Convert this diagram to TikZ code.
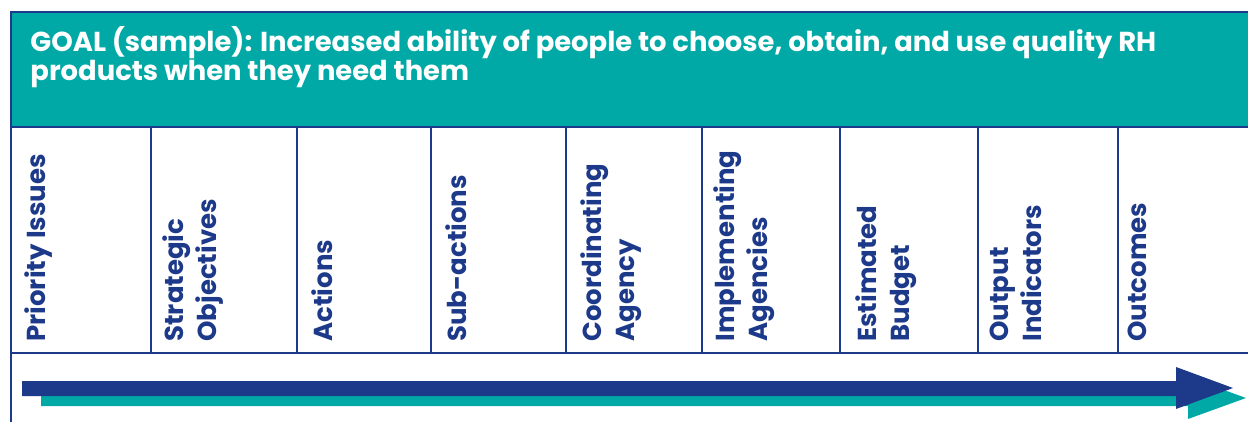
\documentclass[tikz,border=0pt]{standalone}
\usepackage{fontspec}
\setmainfont{Poppins}
\definecolor{rhnavy}{RGB}{29,57,137}
\definecolor{rhteal}{RGB}{0,169,165}
\tikzset{
	rule/.style={draw=rhnavy, line width=1pt},
	goaltext/.style={anchor=north west, align=left, inner sep=0pt, text=white, font=\bfseries\fontsize{13.7}{14.5}\selectfont},
	colhead/.style={rotate=90, anchor=north west, align=left, inner sep=0pt, text=rhnavy, font=\bfseries\fontsize{13}{16.5}\selectfont},
}

\begin{document}
\begin{tikzpicture}[x=0.5pt, y=-0.5pt]
			\clip (0, 0) rectangle (1248, 422);
			% goal band across the top
			\fill[rhteal] (11, 12) rectangle (1260, 127);
			\node (goal)[goaltext] at (30, 26) {GOAL (sample): Increased ability of people to choose, obtain, and use quality RH\\products when they need them};
			% frame and column rules
			\draw[rule] (1260, 12) -- (11, 12) -- (11, 430);
			\draw[rule] (11, 127) -- (1260, 127);
			\draw[rule] (11, 353) -- (1260, 353);
			\draw[rule] (151, 127) -- (151, 353);
			\draw[rule] (297, 127) -- (297, 353);
			\draw[rule] (431, 127) -- (431, 353);
			\draw[rule] (566, 127) -- (566, 353);
			\draw[rule] (702, 127) -- (702, 353);
			\draw[rule] (840, 127) -- (840, 353);
			\draw[rule] (978, 127) -- (978, 353);
			\draw[rule] (1118, 127) -- (1118, 353);
			% column headings, read bottom to top
			\node (issues)[colhead] at (24, 342) {Priority Issues};
			\node (objectives)[colhead] at (162, 342) {Strategic\\Objectives};
			\node (actions)[colhead] at (311, 342) {Actions};
			\node (subactions)[colhead] at (445, 342) {Sub-actions};
			\node (coordinating)[colhead] at (580, 342) {Coordinating\\Agency};
			\node (implementing)[colhead] at (713, 342) {Implementing\\Agencies};
			\node (budget)[colhead] at (855, 342) {Estimated\\Budget};
			\node (indicators)[colhead] at (990, 342) {Output\\Indicators};
			\node (outcomes)[colhead] at (1128, 342) {Outcomes};
			% timeline arrow with its teal shadow
			\fill[rhteal] (41, 391) -- (1188, 391) -- (1188, 377) -- (1246, 398) -- (1188, 419) -- (1188, 406) -- (41, 406) -- cycle;
			\fill[rhnavy] (22, 381) -- (1176, 381) -- (1176, 367) -- (1233, 388) -- (1176, 409) -- (1176, 396) -- (22, 396) -- cycle;
		\end{tikzpicture}
\end{document}
